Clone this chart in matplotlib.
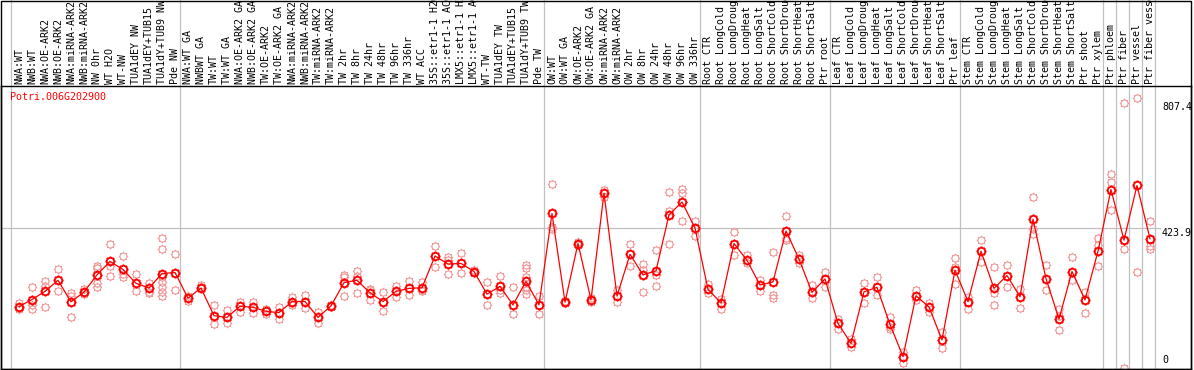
import matplotlib
matplotlib.use("Agg")
import matplotlib.pyplot as plt
import matplotlib.path as mpath
import numpy as np
from matplotlib.patches import Rectangle
from matplotlib.lines import Line2D

gene = "Potri.006G202900"

g_nw = ["NWA:WT", "NWB:WT", "NWA:OE-ARK2", "NWB:OE-ARK2", "NWA:miRNA-ARK2", "NWB:miRNA-ARK2",
        "NW 0hr", "WT H2O", "WT-NW", "TUA1dEY NW", "TUA1dEY+TUB15", "TUA1dY+TUB9 NW", "Pde NW"]
g_tw = ["NWA:WT GA", "NWBWT GA", "TW:WT", "TW:WT GA", "NWA:OE-ARK2 GA", "NWB:OE-ARK2 GA",
        "TW:OE-ARK2", "TW:OE-ARK2 GA", "NWA:miRNA-ARK2", "NWB:miRNA-ARK2", "TW:miRNA-ARK2",
        "TW:miRNA-ARK2", "TW 2hr", "TW 8hr", "TW 24hr", "TW 48hr", "TW 96hr", "TW 336hr", "WT ACC",
        "35S::etr1-1 H2O", "35S::etr1-1 ACC", "LMX5::etr1-1 H2O", "LMX5::etr1-1 ACC", "WT-TW",
        "TUA1dEY TW", "TUA1dEY+TUB15", "TUA1dY+TUB9 TW", "Pde TW"]
g_ow = ["OW:WT", "OW:WT GA", "OW:OE-ARK2", "OW:OE-ARK2 GA", "OW:miRNA-ARK2", "OW:miRNA-ARK2",
        "OW 2hr", "OW 8hr", "OW 24hr", "OW 48hr", "OW 96hr", "OW 336hr"]
g_root = ["Root CTR", "Root LongCold", "Root LongDrought", "Root LongHeat", "Root LongSalt",
          "Root ShortCold", "Root ShortDrought", "Root ShortHeat", "Root ShortSalt", "Ptr root"]
g_leaf = ["Leaf CTR", "Leaf LongCold", "Leaf LongDrought", "Leaf LongHeat", "Leaf LongSalt",
          "Leaf ShortCold", "Leaf ShortDrought", "Leaf ShortHeat", "Leaf ShortSalt", "Ptr leaf"]
g_stem = ["Stem CTR", "Stem LongCold", "Stem LongDrought", "Stem LongHeat", "Stem LongSalt",
          "Stem ShortCold", "Stem ShortDrought", "Stem ShortHeat", "Stem ShortSalt", "Ptr shoot",
          "Ptr xylem"]
g_phloem = ["Ptr phloem"]
g_fiber = ["Ptr fiber"]
g_vessel = ["Ptr vessel"]
g_fv = ["Ptr fiber vessel"]
groups = [g_nw, g_tw, g_ow, g_root, g_leaf, g_stem, g_phloem, g_fiber, g_vessel, g_fv]

means = [190, 211, 235, 268, 204, 233, 284, 324, 300, 259, 245, 288, 291,
         215, 245, 163, 158, 191, 188, 176, 172, 205, 205, 158, 192, 261, 268, 231, 205, 235,
         244, 246, 340, 316, 318, 294, 227, 250, 195, 265, 195,
         466, 203, 377, 210, 526, 221, 345, 284, 296, 462, 500, 423,
         241, 201, 377, 327, 254, 263, 414, 331, 232, 272,
         140, 81, 234, 247, 137, 42, 222, 189, 91, 298,
         205, 354, 244, 282, 219, 449, 273, 153, 294, 210, 354,
         537, 387, 549, 391]

replicates = [
    [200, 190, 182], [247, 195, 182], [267, 251, 188], [300, 235], [231, 221, 158],
    [241, 233, 226], [310, 303, 261, 247], [377, 310, 281], [340, 287, 277], [287, 235],
    [261, 234, 231], [392, 361, 279, 264, 249, 234, 222], [346, 239],
    [222, 208], [253, 247], [194, 137], [180, 142], [204, 175], [204, 172], [182, 168],
    [188, 152], [219, 200, 196], [224, 187], [175, 142], [196, 188], [284, 277, 221],
    [296, 281, 229], [243, 238, 209], [233, 177], [252, 217], [265, 224], [263, 240, 236],
    [371, 306], [338, 328, 287], [348, 289], [297, 290], [263, 195], [281, 239, 229],
    [247, 169], [314, 303, 279, 249, 239, 227], [221, 168],
    [552, 425, 421], [207, 200], [380, 374], [215, 204], [535, 516], [238, 205], [377, 311],
    [316, 298, 232], [357, 283, 251], [530, 474, 377], [540, 528, 443], [445, 399],
    [257, 231], [213, 182], [410, 342], [343, 318], [269, 237], [351, 224, 214],
    [458, 392, 387], [343, 318], [254, 214], [293, 247],
    [152, 125], [93, 71], [261, 200], [277, 223], [158, 130, 125], [56, 22], [239, 210],
    [200, 175], [116, 66], [333, 306, 256],
    [217, 182], [387, 323], [306, 229, 195], [313, 247], [241, 187], [514, 419, 405],
    [313, 238], [182, 162, 121], [336, 269], [234, 170], [392, 372, 310],
    [582, 560, 476], [792, 360, 7], [807.4, 294], [444, 369, 360]]

yticks = [0, 423.9, 807.4]
ytick_labels = ["0", "423.9", "807.4"]

labels = [l for g in groups for l in g]
n = len(labels)
x = np.arange(n)

FONT = "DejaVu Sans Mono"
FS = 7.2
RED = "#ff0000"
PINK = "#f09a9a"
GRID = "#c0c0c0"

# sun-like marker: circle + small outer ticks
circ = mpath.Path.unit_circle()
tick_paths = []
for a in np.deg2rad(np.arange(0, 360, 45)):
    c, s = np.cos(a), np.sin(a)
    tick_paths.append(mpath.Path([(c * 1.0, s * 1.0), (c * 1.35, s * 1.35)],
                                 [mpath.Path.MOVETO, mpath.Path.LINETO]))
sun = mpath.Path.make_compound_path(circ, *tick_paths)

W, H = 1194, 370
fig = plt.figure(figsize=(W / 100, H / 100), dpi=100)
fig.patch.set_facecolor("white")

ax_left, ax_right, ax_top, ax_bot = 1, 1191, 86, 369
ax = fig.add_axes([ax_left / W, (H - ax_bot) / H, (ax_right - ax_left) / W, (ax_bot - ax_top) / H])
x0px, dx = 19.0, 13.0
ax.set_xlim((ax_left - x0px) / dx, (ax_right - x0px) / dx)
y0px, scale = 370.7, 0.3374
ax.set_ylim((y0px - ax_bot) / scale, (y0px - ax_top) / scale)

for sp in ax.spines.values():
    sp.set_color("black")
    sp.set_linewidth(1.0)

# group separators
bounds = np.cumsum([0] + [len(g) for g in groups])
for b in bounds:
    ax.axvline(b - 0.62, ymin=0, ymax=(ax_bot) / (ax_bot - ax_top), color=GRID, lw=0.9,
               clip_on=False, zorder=1)

# horizontal reference line
ax.axhline(yticks[1], xmin=0, xmax=(1160 - ax_left) / (ax_right - ax_left), color=GRID,
           lw=0.9, zorder=1)

# replicates
for i, reps in enumerate(replicates):
    ax.plot([i] * len(reps), reps, linestyle="none", marker=sun, markersize=6.8,
            markerfacecolor="none", markeredgecolor=PINK, markeredgewidth=0.8, zorder=2)

# means
ax.plot(x, means, color=RED, lw=0.9, zorder=3)
ax.plot(x, means, linestyle="none", marker=sun, markersize=7.2, markerfacecolor="none",
        markeredgecolor=RED, markeredgewidth=1.3, zorder=4)

# top category labels
ax.set_xticks(x)
ax.set_xticklabels(labels, rotation=90, fontfamily=FONT, fontsize=FS)
ax.xaxis.tick_top()
ax.tick_params(axis="x", length=0, pad=1.5)
ax.set_yticks([])

# gene name
ax.text(9 / (ax_right - ax_left), 1 - 6 / (ax_bot - ax_top), gene, transform=ax.transAxes,
        color=RED, fontfamily=FONT, fontsize=FS, ha="left", va="top")

# value labels on right
xl = (1162 - ax_left) / (ax_right - ax_left)
ax.annotate(ytick_labels[2], xy=(xl, yticks[2]), xycoords=("axes fraction", "data"),
            xytext=(0, -3), textcoords="offset points", ha="left", va="top",
            fontfamily=FONT, fontsize=FS)
ax.annotate(ytick_labels[1], xy=(xl, yticks[1]), xycoords=("axes fraction", "data"),
            xytext=(0, -0.3), textcoords="offset points", ha="left", va="top",
            fontfamily=FONT, fontsize=FS)
ax.annotate(ytick_labels[0], xy=(xl, 0), xycoords=("axes fraction", "axes fraction"),
            xytext=(0, 3), textcoords="offset points", ha="left", va="bottom",
            fontfamily=FONT, fontsize=FS)

# outer frame
fig.add_artist(Rectangle((ax_left / W, (H - ax_bot) / H), (ax_right - ax_left) / W,
                         (ax_bot - 0.5) / H, transform=fig.transFigure, fill=False,
                         edgecolor="black", lw=1.0))

fig.savefig("out.png", dpi=100)
